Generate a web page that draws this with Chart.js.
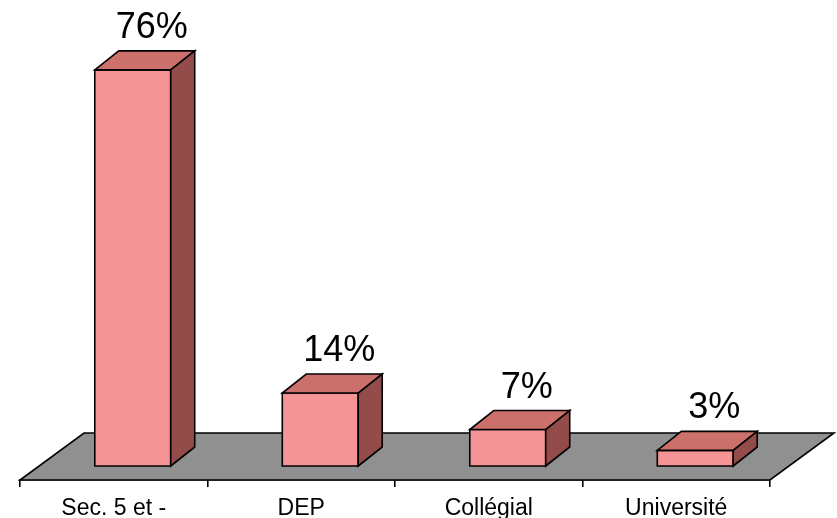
<!DOCTYPE html>
<html>
<head>
<meta charset="utf-8">
<script src="https://cdn.jsdelivr.net/npm/chart.js@4/dist/chart.umd.min.js"></script>
<style>
  html, body { margin: 0; padding: 0; background: #fff; }
  #wrap { width: 837px; height: 518px; }
</style>
</head>
<body>
<div id="wrap"><canvas id="chart"></canvas></div>
<script>
// data
const categories = ['Sec. 5 et -', 'DEP', 'Collégial', 'Université'];
const values = [76, 14, 7, 3];
const yMax = 80;

// 3D look
const FLOOR_DX = 64, FLOOR_DY = 47;   // floor depth
const FRONT_DX = 19, FRONT_DY = 14;   // bar front plane behind floor front edge
const BAR_DX = 24, BAR_DY = 19;       // bar depth
const C_FRONT = '#F49494', C_TOP = '#CC706C', C_SIDE = '#944C4A', C_FLOOR = '#909090';

function poly(ctx, pts, fill){
  ctx.beginPath();
  ctx.moveTo(pts[0][0], pts[0][1]);
  for (let i = 1; i < pts.length; i++) ctx.lineTo(pts[i][0], pts[i][1]);
  ctx.closePath();
  ctx.fillStyle = fill;
  ctx.fill();
  ctx.stroke();
}

const bars3d = {
  id: 'bars3d',
  beforeDatasetsDraw(chart){
    const { ctx, chartArea: a } = chart;
    ctx.save();
    ctx.strokeStyle = '#000';
    ctx.lineWidth = 1.6;
    poly(ctx, [[a.left, a.bottom], [a.right, a.bottom],
               [a.right + FLOOR_DX, a.bottom - FLOOR_DY], [a.left + FLOOR_DX, a.bottom - FLOOR_DY]], C_FLOOR);
    ctx.restore();
  },
  afterDatasetsDraw(chart){
    const { ctx } = chart;
    const meta = chart.getDatasetMeta(0);
    ctx.save();
    ctx.strokeStyle = '#000';
    ctx.lineWidth = 1.6;
    meta.data.forEach((bar, i) => {
      const l = bar.x - bar.width / 2 + FRONT_DX;
      const r = bar.x + bar.width / 2 + FRONT_DX;
      const t = bar.y - FRONT_DY;
      const b = bar.base - FRONT_DY;
      poly(ctx, [[l, b], [r, b], [r, t], [l, t]], C_FRONT);
      poly(ctx, [[l, t], [r, t], [r + BAR_DX, t - BAR_DY], [l + BAR_DX, t - BAR_DY]], C_TOP);
      poly(ctx, [[r, b], [r + BAR_DX, b - BAR_DY], [r + BAR_DX, t - BAR_DY], [r, t]], C_SIDE);
      ctx.fillStyle = '#000';
      ctx.font = '36px "Liberation Sans", Arial, sans-serif';
      ctx.textAlign = 'center';
      ctx.textBaseline = 'alphabetic';
      ctx.fillText(values[i] + '%', bar.x + FRONT_DX + 19, t - BAR_DY - 13);
    });
    ctx.restore();
  }
};

new Chart(document.getElementById('chart'), {
  type: 'bar',
  data: {
    labels: categories,
    datasets: [{ data: values, backgroundColor: 'rgba(0,0,0,0)', borderWidth: 0,
                 barPercentage: 0.405, categoryPercentage: 1 }]
  },
  options: {
    responsive: true,
    maintainAspectRatio: false,
    animation: false,
    layout: { padding: { left: 20, right: 67, top: 63, bottom: 0 } },
    plugins: { legend: { display: false }, tooltip: { enabled: false } },
    scales: {
      x: {
        grid: { offset: true, drawOnChartArea: false, tickLength: 7, color: '#000', lineWidth: 1.6 },
        border: { display: true, color: '#000', width: 1.6 },
        ticks: { color: '#000', padding: 8, font: { family: '"Liberation Sans", Arial, sans-serif', size: 23 } },
        afterFit(scale){ scale.height = 38; }
      },
      y: { display: false, min: 0, max: yMax }
    }
  },
  plugins: [bars3d]
});
</script>
</body>
</html>
